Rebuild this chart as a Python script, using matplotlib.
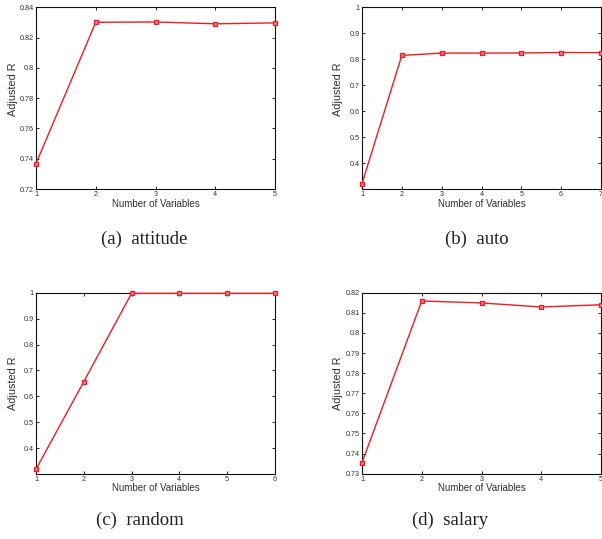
import matplotlib
matplotlib.use("Agg")
import matplotlib.pyplot as plt

# Adjusted R vs number of variables
attitude_x = [1, 2, 3, 4, 5]
attitude_y = [0.7368, 0.8301, 0.8303, 0.8291, 0.8297]

auto_x = [1, 2, 3, 4, 5, 6, 7]
auto_y = [0.3205, 0.8147, 0.8236, 0.8237, 0.8242, 0.8258, 0.8255]

random_x = [1, 2, 3, 4, 5, 6]
random_y = [0.3190, 0.6570, 0.9975, 0.9975, 0.9975, 0.9975]

salary_x = [1, 2, 3, 4, 5]
salary_y = [0.7355, 0.8159, 0.8149, 0.8129, 0.8140]

panels = [
    # x, y, ylim, yticks, ytick labels, caption
    (attitude_x, attitude_y, (0.72, 0.84),
     [0.72, 0.74, 0.76, 0.78, 0.80, 0.82, 0.84],
     ["0.72", "0.74", "0.76", "0.78", "0.8", "0.82", "0.84"], "(a)  attitude"),
    (auto_x, auto_y, (0.30, 1.0),
     [0.4, 0.5, 0.6, 0.7, 0.8, 0.9, 1.0],
     ["0.4", "0.5", "0.6", "0.7", "0.8", "0.9", "1"], "(b)  auto"),
    (random_x, random_y, (0.302, 1.0),
     [0.4, 0.5, 0.6, 0.7, 0.8, 0.9, 1.0],
     ["0.4", "0.5", "0.6", "0.7", "0.8", "0.9", "1"], "(c)  random"),
    (salary_x, salary_y, (0.73, 0.82),
     [0.73, 0.74, 0.75, 0.76, 0.77, 0.78, 0.79, 0.80, 0.81, 0.82],
     ["0.73", "0.74", "0.75", "0.76", "0.77", "0.78", "0.79", "0.8", "0.81", "0.82"],
     "(d)  salary"),
]

W, H = 602, 539
boxes = [
    (36, 7.3, 275, 189),
    (362, 7.3, 601, 189),
    (36, 292.7, 275, 473.7),
    (362, 292.7, 601, 473.7),
]
captions_xy = [(144, 239), (477, 239), (140, 520), (450, 520)]
ylabel_pos = [0.55, 0.55, 0.5, 0.5]
ylabel_off = [18, 19, 18, 19]  # px left of the axes

plt.rcParams["font.family"] = ["Liberation Sans", "DejaVu Sans"]
fig = plt.figure(figsize=(W / 100, H / 100), dpi=100)

text_col = "#303030"
for (xs, ys, ylim, yt, ytl, cap), (x0, y0, x1, y1), (cx, cy), yl, yo in zip(
        panels, boxes, captions_xy, ylabel_pos, ylabel_off):
    ax = fig.add_axes([x0 / W, 1 - y1 / H, (x1 - x0) / W, (y1 - y0) / H])
    ax.plot(xs, ys, color="#ee1c24", lw=1.0, marker="s", ms=3.2,
            mfc="#f47a7e", mec="#ee1c24", mew=0.9, clip_on=False, zorder=3)
    ax.set_xlim(xs[0], xs[-1])
    ax.set_ylim(*ylim)
    ax.set_xticks(xs)
    ax.set_yticks(yt)
    ax.set_yticklabels(ytl)
    ax.tick_params(direction="in", length=2.5, width=0.6, top=True, right=True,
                   labelsize=5.2, colors="#000000", labelcolor=text_col, pad=1.5)
    for s in ax.spines.values():
        s.set_linewidth(0.8)
        s.set_color("#111111")
    ax.set_xlabel("Number of Variables", fontsize=7, color=text_col, labelpad=0.5)
    ax.set_ylabel("Adjusted R", fontsize=7.8, color=text_col)
    ax.yaxis.set_label_coords(-yo / (x1 - x0), yl)
    fig.text(cx / W, 1 - cy / H, cap, ha="center", va="center", fontsize=13.5,
             family=["Liberation Serif", "DejaVu Serif"], color="#222222")

fig.savefig("out.png", dpi=100)
